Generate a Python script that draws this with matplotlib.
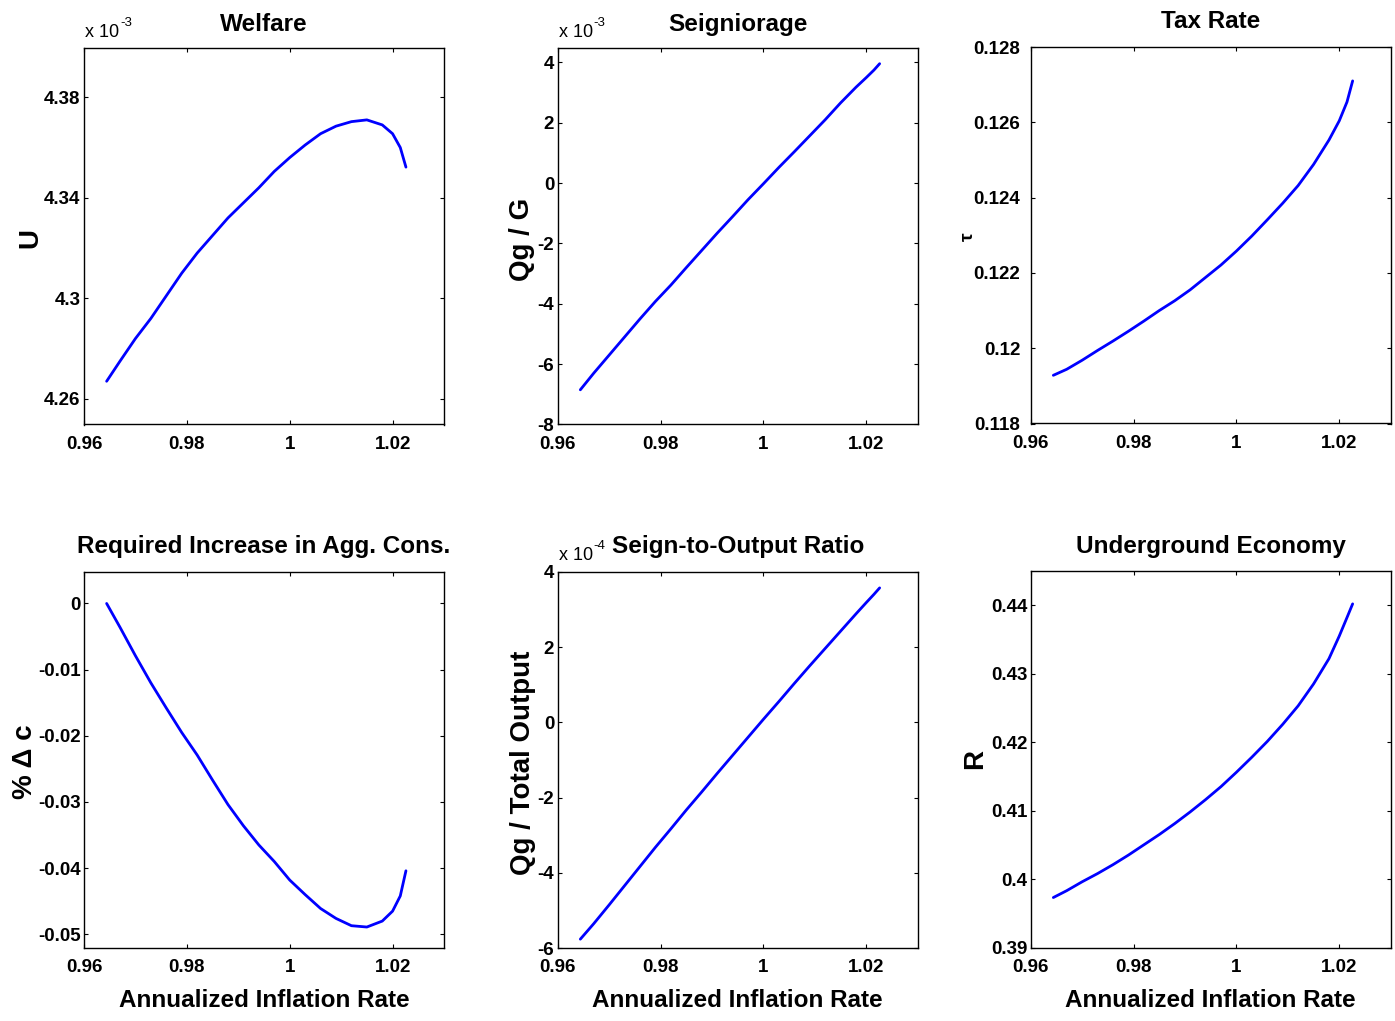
import matplotlib
matplotlib.use('Agg')
import matplotlib.pyplot as plt

# ---------------- data ----------------
inflation = [0.9644, 0.967, 0.970, 0.973, 0.976, 0.979, 0.982, 0.985, 0.988, 0.991,
             0.994, 0.997, 1.000, 1.003, 1.006, 1.009, 1.012, 1.015, 1.018, 1.020,
             1.0215, 1.0226]

welfare = [4.267, 4.275, 4.284, 4.292, 4.301, 4.310, 4.318, 4.325, 4.332, 4.338,
           4.344, 4.3505, 4.356, 4.361, 4.3655, 4.3685, 4.3703, 4.3710, 4.3690, 4.3655,
           4.360, 4.3522]  # x 1e-3

seigniorage = [-6.85, -6.30, -5.70, -5.10, -4.50, -3.92, -3.38, -2.80, -2.23, -1.66,
               -1.11, -0.55, -0.02, 0.52, 1.04, 1.57, 2.10, 2.66, 3.18, 3.50,
               3.75, 3.96]  # x 1e-3

tax_rate = [0.11928, 0.11944, 0.11968, 0.11994, 0.12019, 0.12045, 0.12072, 0.12100,
            0.12126, 0.12155, 0.12188, 0.12221, 0.12258, 0.12298, 0.12341, 0.12385,
            0.12432, 0.12488, 0.12553, 0.12604, 0.12654, 0.12710]

cons_change = [0.0, -0.0036, -0.0079, -0.0120, -0.0158, -0.0195, -0.0229, -0.0267,
               -0.0304, -0.0336, -0.0365, -0.0390, -0.0418, -0.0440, -0.0461, -0.0476,
               -0.0487, -0.0489, -0.0480, -0.0465, -0.0442, -0.0404]

seign_output = [-5.76, -5.35, -4.85, -4.34, -3.83, -3.32, -2.83, -2.33, -1.85, -1.36,
                -0.88, -0.40, 0.08, 0.55, 1.03, 1.50, 1.96, 2.42, 2.88, 3.18,
                3.40, 3.57]  # x 1e-4

underground = [0.3973, 0.3983, 0.3996, 0.4008, 0.4021, 0.4035, 0.4050, 0.4065, 0.4081,
               0.4098, 0.4116, 0.4135, 0.4156, 0.4178, 0.4201, 0.4226, 0.4253, 0.4285,
               0.4322, 0.4355, 0.4382, 0.4402]

x_ticks = [0.96, 0.98, 1.00, 1.02]
x_ticklabels = ['0.96', '0.98', '1', '1.02']

welfare_ticks = [4.26, 4.30, 4.34, 4.38]
welfare_ticklabels = ['4.26', '4.3', '4.34', '4.38']
seign_ticks = [-8, -6, -4, -2, 0, 2, 4]
seign_ticklabels = ['-8', '-6', '-4', '-2', '0', '2', '4']
tax_ticks = [0.118, 0.120, 0.122, 0.124, 0.126, 0.128]
tax_ticklabels = ['0.118', '0.12', '0.122', '0.124', '0.126', '0.128']
cons_ticks = [0, -0.01, -0.02, -0.03, -0.04, -0.05]
cons_ticklabels = ['0', '-0.01', '-0.02', '-0.03', '-0.04', '-0.05']
ratio_ticks = [-6, -4, -2, 0, 2, 4]
ratio_ticklabels = ['-6', '-4', '-2', '0', '2', '4']
under_ticks = [0.39, 0.40, 0.41, 0.42, 0.43, 0.44]
under_ticklabels = ['0.39', '0.4', '0.41', '0.42', '0.43', '0.44']

# ---------------- figure ----------------
plt.rcParams['font.family'] = ['Liberation Sans', 'DejaVu Sans']
W, H = 1395, 1021
fig = plt.figure(figsize=(W / 100, H / 100), dpi=100)

FONT_TICK = 13.5
FONT_TITLE = 17.5
FONT_YLAB = 20
FONT_XLAB = 17.5


def px_axes(left, top, width, height):
    return fig.add_axes([left / W, 1 - (top + height) / H, width / W, height / H])


def ftext(x, y, s, **kw):
    return fig.text(x / W, 1 - y / H, s, **kw)


panels = [
    dict(left=84, top=48, data=welfare, ylim=(4.2498, 4.3996), ticks=welfare_ticks,
         labels=welfare_ticklabels, title='Welfare', tb=30.7, ylabel='U', ylx=37, yly=238,
         yls=FONT_YLAB, ypad=2.5, exp='-3', expy=37.3),
    dict(left=557.7, top=48, data=seigniorage, ylim=(-8, 4.48), ticks=seign_ticks,
         labels=seign_ticklabels, title='Seigniorage', tb=30.7, ylabel='Qg / G', ylx=529, yly=239,
         yls=FONT_YLAB, ypad=2.5, exp='-3', expy=37.3),
    dict(left=1030.7, top=47, data=tax_rate, ylim=(0.118, 0.128), ticks=tax_ticks,
         labels=tax_ticklabels, title='Tax Rate', tb=28.3, ylabel='τ', ylx=973, yly=237,
         yls=14, ypad=7.5, exp=None, expy=None),
    dict(left=84, top=571.7, data=cons_change, ylim=(-0.0521, 0.0048), ticks=cons_ticks,
         labels=cons_ticklabels, title='Required Increase in Agg. Cons.', tb=553.3,
         ylabel='% Δ c', ylx=32.5, yly=762, yls=FONT_YLAB, ypad=2.5, exp=None, expy=None),
    dict(left=557.7, top=571.7, data=seign_output, ylim=(-6, 4), ticks=ratio_ticks,
         labels=ratio_ticklabels, title='Seign-to-Output Ratio', tb=553.3,
         ylabel='Qg / Total Output', ylx=530, yly=762.5, yls=FONT_YLAB, ypad=2.5,
         exp='-4', expy=560),
    dict(left=1030.7, top=571, data=underground, ylim=(0.39, 0.445), ticks=under_ticks,
         labels=under_ticklabels, title='Underground Economy', tb=553.3, ylabel='R',
         ylx=981.7, yly=759, yls=FONT_YLAB, ypad=2.5, exp=None, expy=None),
]

AX_W, AX_H = 360, 376.5

for i, p in enumerate(panels):
    ax = px_axes(p['left'], p['top'], AX_W, AX_H)
    ax.plot(inflation, p['data'], color=(0, 0, 1), lw=2.0, solid_joinstyle='round',
            solid_capstyle='round')
    ax.set_xlim(0.96, 1.03)
    ax.set_ylim(*p['ylim'])
    ax.set_xticks(x_ticks, x_ticklabels)
    ax.set_yticks(p['ticks'], p['labels'])
    for sp in ax.spines.values():
        sp.set_linewidth(1.0)
        sp.set_color('black')
    ax.tick_params(direction='in', length=2.6, width=0.8, top=True, right=True,
                   labelsize=FONT_TICK, colors='black')
    ax.tick_params(axis='x', pad=8)
    ax.tick_params(axis='y', pad=p['ypad'])
    for lab in ax.get_xticklabels() + ax.get_yticklabels():
        lab.set_fontweight('bold')

    cx = p['left'] + AX_W / 2
    ftext(cx, p['tb'], p['title'], ha='center', va='baseline',
          fontsize=FONT_TITLE, fontweight='bold')
    ftext(p['ylx'], p['yly'], p['ylabel'], ha='center', va='baseline', rotation=90,
          rotation_mode='anchor', fontsize=p['yls'], fontweight='bold')
    if p['exp'] is not None:
        ftext(p['left'] + 1, p['expy'], 'x 10', ha='left', va='baseline', fontsize=13)
        ftext(p['left'] + 36, p['expy'] - 11, p['exp'], ha='left', va='baseline', fontsize=9.5)
    if i >= 3:
        ftext(cx, 1006.7, 'Annualized Inflation Rate', ha='center', va='baseline',
              fontsize=FONT_XLAB, fontweight='bold')

fig.savefig('out.png', dpi=100)
